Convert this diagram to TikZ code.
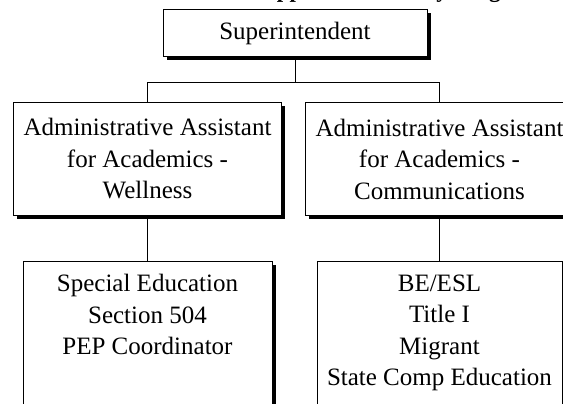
\documentclass[tikz,border=0pt]{standalone}
\usepackage{fontspec}
\setmainfont{Liberation Serif}
\usetikzlibrary{shadows}
\begin{document}
\begin{tikzpicture}[x=1pt,y=-1pt,
  box/.style={draw=black, line width=1pt, fill=white, inner sep=0pt, align=center,
    font=\fontsize{25}{31.5}\selectfont,
    drop shadow={shadow xshift=3.5pt, shadow yshift=-3.5pt, fill=black, opacity=1}},
  conn/.style={line width=1pt}]
\useasboundingbox (0,0) rectangle (563,404);
\clip (0,0) rectangle (563,404);
\node[anchor=base west, inner sep=0pt, font=\bfseries\fontsize{23}{27}\selectfont] (title) at (251,-2.5) {Support Services by Program};
\node[box, minimum width=264pt, minimum height=47pt] (sup) at (295,33.5) {Superintendent};
\node[box, minimum width=268pt, minimum height=112pt] (wel) at (147.5,159) {Administrative Assistant\\for Academics -\\Wellness};
\node[box, minimum width=268pt, minimum height=112pt] (com) at (439.5,159) {Administrative Assistant\\for Academics -\\Communications};
\node[box, anchor=north, inner ysep=13pt] (sped) at (147.5,261) {\parbox[t][180pt][t]{249pt}{\centering Special Education\\Section 504\\PEP Coordinator}};
\node[box, anchor=north, inner ysep=13pt] (prog) at (439.5,261) {\parbox[t][180pt][t]{245pt}{\centering BE/ESL\\Title I\\Migrant\\State Comp Education}};
\coordinate (bus) at (295,83);
\draw[conn] (sup.south) -- (bus) -| (wel.north);
\draw[conn] (bus) -| (com.north);
\draw[conn] (wel.south) -- (sped.north);
\draw[conn] (com.south) -- (prog.north);
\end{tikzpicture}
\end{document}
